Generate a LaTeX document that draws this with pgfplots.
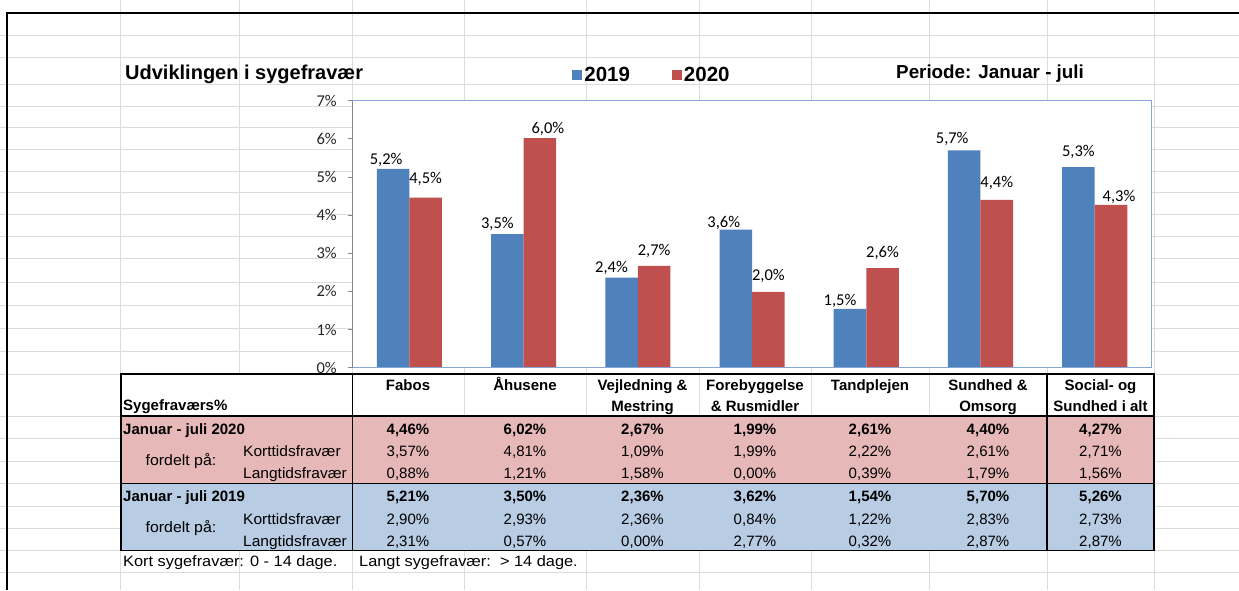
\documentclass[border=0pt]{standalone}
\usepackage{fontspec}
\setmainfont{Liberation Sans}
\newfontfamily\calibri{Carlito}
\usepackage{pgfplots}
\usepackage{pgfplotstable}
\pgfplotsset{compat=1.18}
\definecolor{cblue}{HTML}{4F81BD}
\definecolor{cred}{HTML}{C0504D}
\definecolor{pinkfill}{HTML}{E6B8B7}
\definecolor{bluefill}{HTML}{B8CCE4}
\definecolor{gridc}{RGB}{218,220,221}
\definecolor{pborder}{RGB}{134,166,212}
\definecolor{axgray}{RGB}{134,134,134}

\pgfplotstableread{
x y dx dy
0 5.21 -7 4
1 3.50 -10 5.5
2 2.36 -10 5.5
3 3.62 -12 2
4 1.54 -10 3
5 5.70 -12 7
6 5.26 0 11
}\tabA
\pgfplotstableread{
x y dx dy
0 4.46 0 14
1 6.02 8 5
2 2.67 0 10
3 1.99 0 11
4 2.61 0 11
5 4.40 0 12
6 4.27 8 3
}\tabB

\newcommand\tf{\fontsize{15}{18}\selectfont}
\newcommand\wide[2]{\scalebox{#1}[1]{#2}}
\newcommand\rowvals[9]{%
 \node[anchor=base,inner sep=0pt,font=#2] at (408,#1) {#3};
 \node[anchor=base,inner sep=0pt,font=#2] at (525,#1) {#4};
 \node[anchor=base,inner sep=0pt,font=#2] at (642.5,#1) {#5};
 \node[anchor=base,inner sep=0pt,font=#2] at (755,#1) {#6};
 \node[anchor=base,inner sep=0pt,font=#2] at (870,#1) {#7};
 \node[anchor=base,inner sep=0pt,font=#2] at (988,#1) {#8};
 \node[anchor=base,inner sep=0pt,font=#2] at (1100.5,#1) {#9};}

\begin{document}
\begin{tikzpicture}
\begin{scope}[x=1pt,y=-1pt]
\useasboundingbox (0,0) rectangle (1239,590);
% spreadsheet grid
\foreach \yy in {35,57.3,84,106,127.7,149.3,171.3,192.7,214.3,236,258.7,282.7,305,328.3,351,374,416,438.3,461,483.3,506.7,528.3,550,572.7}
  \draw[gridc, line width=1pt] (0,\yy) -- (1239,\yy);
\foreach \xx in {120.7,239.3,352.3,464,586,699,811,929,1047,1154}
  \draw[gridc, line width=1pt] (\xx,0) -- (\xx,590);
% table fills
\fill[white] (121,374) rectangle (352,416);
\fill[pinkfill] (121,416) rectangle (1154,483.3);
\fill[bluefill] (121,483.3) rectangle (1154,550.5);
\draw[black, line width=1.2pt] (121,374) rectangle (1154,550.5);
\draw[black, line width=1.2pt] (121,416) -- (1154,416);
\draw[black, line width=1.2pt] (121,483.3) -- (1154,483.3);
\draw[black, line width=1.2pt] (352.3,374) -- (352.3,550.5);
\draw[black, line width=1.2pt] (1047,374) -- (1047,550.5);
% frame
\draw[black, line width=2.2pt] (7.3,590) -- (7.3,13.3) -- (1239,13.3);
\end{scope}

\begin{axis}[
  at={(352.3pt,-367.7pt)}, anchor=south west,
  scale only axis, width=799.5pt, height=267pt,
  xmin=-0.5, xmax=6.5, ymin=0, ymax=7,
  ybar=0pt, bar width=0.285,
  clip=false,
  axis background/.style={fill=white},
  axis line style={draw=none},
  xtick=\empty,
  ytick={0,1,2,3,4,5,6,7},
  yticklabels={0\%,1\%,2\%,3\%,4\%,5\%,6\%,7\%},
  ytick pos=left, tick align=outside, major tick length=4pt,
  tick style={draw=axgray, line width=0.9pt},
  yticklabel style={font=\calibri\fontsize{16.5}{18}\selectfont, text=black!85, xshift=-8pt},
  legend columns=2,
  legend style={at={(axis description cs:0.275,1)}, anchor=south west, yshift=15.5pt,
    draw=none, fill=none, inner sep=0pt,
    font=\bfseries\fontsize{20.5}{22}\selectfont,
    /tikz/every even column/.append style={column sep=40pt}},
]
\addplot[fill=cblue, draw=none,
  legend image code/.code={\fill[cblue] (0pt,-4.5pt) rectangle (10pt,5.5pt);},
  visualization depends on={\thisrow{dx}\as\dx},
  visualization depends on={\thisrow{dy}\as\dy},
  nodes near coords={\pgfmathprintnumber[fixed,fixed zerofill,precision=1,use comma,assume math mode=true]{\pgfplotspointmeta}\%},
  every node near coord/.append style={font=\calibri\fontsize{16.5}{18}\selectfont, text=black, anchor=base, inner sep=0pt, xshift=\dx*1pt, yshift=\dy*1pt}]
  table[x=x,y=y]{\tabA};
\addplot[fill=cred, draw=none,
  legend image code/.code={\fill[cred] (0pt,-4.5pt) rectangle (10pt,5.5pt);},
  visualization depends on={\thisrow{dx}\as\dx},
  visualization depends on={\thisrow{dy}\as\dy},
  nodes near coords={\pgfmathprintnumber[fixed,fixed zerofill,precision=1,use comma,assume math mode=true]{\pgfplotspointmeta}\%},
  every node near coord/.append style={font=\calibri\fontsize{16.5}{18}\selectfont, text=black, anchor=base, inner sep=0pt, xshift=\dx*1pt, yshift=\dy*1pt}]
  table[x=x,y=y]{\tabB};
\legend{2019,2020}
\draw[pborder, line width=1.2pt] (rel axis cs:0,1) -- (rel axis cs:1,1) -- (rel axis cs:1,0) -- (rel axis cs:0,0);
\draw[axgray, line width=1.2pt] (rel axis cs:0,0) -- (rel axis cs:0,1);
\end{axis}

\begin{scope}[x=1pt,y=-1pt]
\node[anchor=base west, inner sep=0pt, font=\bfseries\fontsize{20}{24}\selectfont] at (125,79) {Udviklingen i sygefravær};
\node[anchor=base west, inner sep=0pt, font=\bfseries\fontsize{18.8}{22}\selectfont] at (896,78) {Periode: Januar - juli};
% header
\foreach \cx/\la/\lb in {408/Fabos/, 525/Åhusene/, 642.5/Vejledning \&/Mestring, 755/Forebyggelse/\& Rusmidler, 870/Tandplejen/, 988/Sundhed \&/Omsorg, 1100.5/Social- og/Sundhed i alt}{
  \node[anchor=base, inner sep=0pt, font=\tf\bfseries] at (\cx,390) {\la};
  \node[anchor=base, inner sep=0pt, font=\tf\bfseries] at (\cx,411) {\lb};
}
\node[anchor=base west, inner sep=0pt, font=\tf\bfseries] at (123,410) {Sygefraværs\%};
% 2020 block
\node[anchor=base west, inner sep=0pt, font=\tf\bfseries] at (123,434) {Januar - juli 2020};
\node[anchor=base, inner sep=0pt, font=\tf] at (181,465) {\wide{1.06}{fordelt på:}};
\node[anchor=base west, inner sep=0pt, font=\tf] at (243,456) {\wide{1.035}{Korttidsfravær}};
\node[anchor=base west, inner sep=0pt, font=\tf] at (243,478) {\wide{1.035}{Langtidsfravær}};
\rowvals{434}{\tf\bfseries}{4,46\%}{6,02\%}{2,67\%}{1,99\%}{2,61\%}{4,40\%}{4,27\%}
\rowvals{456}{\tf}{3,57\%}{4,81\%}{1,09\%}{1,99\%}{2,22\%}{2,61\%}{2,71\%}
\rowvals{478}{\tf}{0,88\%}{1,21\%}{1,58\%}{0,00\%}{0,39\%}{1,79\%}{1,56\%}
% 2019 block
\node[anchor=base west, inner sep=0pt, font=\tf\bfseries] at (123,501) {Januar - juli 2019};
\node[anchor=base, inner sep=0pt, font=\tf] at (181,532) {\wide{1.06}{fordelt på:}};
\node[anchor=base west, inner sep=0pt, font=\tf] at (243,524) {\wide{1.035}{Korttidsfravær}};
\node[anchor=base west, inner sep=0pt, font=\tf] at (243,546.5) {\wide{1.035}{Langtidsfravær}};
\rowvals{501}{\tf\bfseries}{5,21\%}{3,50\%}{2,36\%}{3,62\%}{1,54\%}{5,70\%}{5,26\%}
\rowvals{524}{\tf}{2,90\%}{2,93\%}{2,36\%}{0,84\%}{1,22\%}{2,83\%}{2,73\%}
\rowvals{546.5}{\tf}{2,31\%}{0,57\%}{0,00\%}{2,77\%}{0,32\%}{2,87\%}{2,87\%}
% footer
\node[anchor=base west, inner sep=0pt, font=\tf] at (123,566) {\wide{1.09}{Kort sygefravær: 0 - 14 dage.}};
\node[anchor=base west, inner sep=0pt, font=\tf] at (359,566) {\wide{1.09}{Langt sygefravær:\ \ > 14 dage.}};
\end{scope}
\end{tikzpicture}
\end{document}
